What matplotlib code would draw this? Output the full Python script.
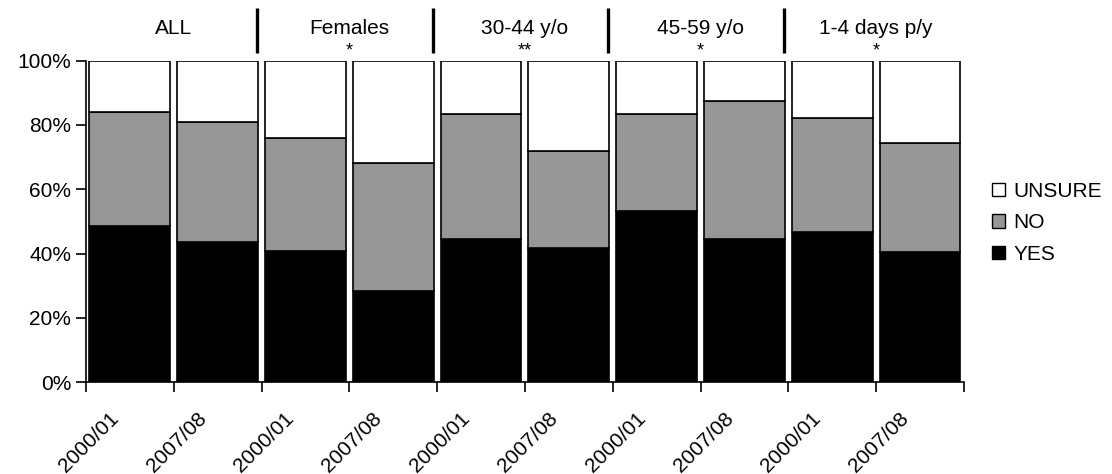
import numpy as np
import matplotlib
matplotlib.use("Agg")
import matplotlib.pyplot as plt
import matplotlib.transforms as mtransforms
from matplotlib.patches import Patch

plt.rcParams['font.family'] = ['Liberation Sans', 'DejaVu Sans']

periods = ["2000/01", "2007/08"] * 5
groups = ["ALL", "Females", "30-44 y/o", "45-59 y/o", "1-4 days p/y"]
signif = ["", "*", "**", "*", "*"]

yes = [48.7, 43.5, 40.8, 28.4, 44.5, 41.9, 53.3, 44.5, 46.6, 40.4]
no = [35.3, 37.3, 35.2, 39.8, 38.8, 30.1, 30.0, 43.0, 35.7, 34.1]
unsure = [16.0, 19.2, 24.0, 31.8, 16.7, 28.0, 16.7, 12.5, 17.7, 25.5]

x = np.arange(len(periods))
yes_a = np.array(yes)
no_a = np.array(no)
uns_a = np.array(unsure)

fig = plt.figure(figsize=(11.12, 4.74), dpi=100)
ax = fig.add_axes([0.0773, 0.1935, 0.7896, 0.6785])

w = 0.92
kw = dict(width=w, edgecolor='black', linewidth=1.2)
ax.bar(x, yes_a, color='black', **kw)
ax.bar(x, no_a, bottom=yes_a, color='#969696', **kw)
ax.bar(x, uns_a, bottom=yes_a + no_a, color='white', **kw)

ax.set_xlim(-0.5, len(x) - 0.5)
ax.set_ylim(0, 100)
ax.set_yticks(np.arange(0, 101, 20))
ax.set_yticklabels([f"{v}%" for v in range(0, 101, 20)], fontsize=15)

# tick marks between categories, labels under the bars
ax.set_xticks(np.arange(-0.5, len(x), 1.0))
ax.set_xticklabels([])
ax.set_xticks(x, minor=True)
ax.set_xticklabels(periods, minor=True, rotation=45, ha='right',
                   rotation_mode='anchor', fontsize=15)
ax.tick_params(axis='x', which='minor', length=0, pad=19)
ax.tick_params(axis='both', which='major', length=7, width=1.2, direction='out')
offset = mtransforms.ScaledTranslation(-0.21, 0, fig.dpi_scale_trans)
for lab in ax.get_xticklabels(minor=True):
    lab.set_transform(lab.get_transform() + offset)

for s in ['top', 'right']:
    ax.spines[s].set_visible(False)
for s in ['left', 'bottom']:
    ax.spines[s].set_linewidth(1.2)

# group headers above the bars
trans = mtransforms.blended_transform_factory(ax.transData, ax.transAxes)
for i, (g, star) in enumerate(zip(groups, signif)):
    cx = 2 * i + 0.5
    ax.text(cx, 1.10, g, transform=trans, ha='center', va='center', fontsize=15)
    if star:
        ax.text(cx, 1.03, star, transform=trans, ha='center', va='center', fontsize=13)
    if i > 0:
        bx = 2 * i - 0.55
        ax.plot([bx, bx], [1.024, 1.164], transform=trans, color='black',
                lw=2.4, clip_on=False, solid_capstyle='butt')

handles = [Patch(facecolor='white', edgecolor='black', label='UNSURE'),
           Patch(facecolor='#969696', edgecolor='black', label='NO'),
           Patch(facecolor='black', edgecolor='black', label='YES')]
fig.legend(handles=handles, loc='center left', bbox_to_anchor=(0.875, 0.53),
           frameon=False, fontsize=15, handlelength=0.65, handleheight=0.65,
           handletextpad=0.4, labelspacing=0.6)

fig.savefig("out.png", dpi=100)
